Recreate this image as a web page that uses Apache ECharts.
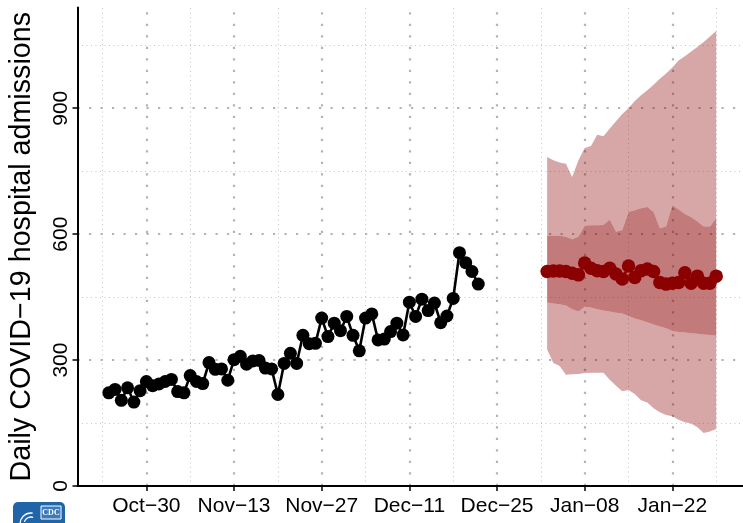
<!DOCTYPE html>
<html>
<head>
<meta charset="utf-8">
<script src="https://cdn.jsdelivr.net/npm/echarts@6/dist/echarts.min.js"></script>
<style>
html,body{margin:0;padding:0;background:#fff;}
#chart{width:743px;height:523px;}
</style>
</head>
<body>
<div id="chart"></div>
<script>
// ---- data ----
const axisStart = [2022, 9, 19];   // first day on the x axis (Oct 19)
const axisDays = 108;              // Oct 19 .. Feb 03
const tickLabels = ['Oct−30', 'Nov−13', 'Nov−27', 'Dec−11', 'Dec−25', 'Jan−08', 'Jan−22'];
const minorXLines = ['Oct−23', 'Nov−06', 'Nov−20', 'Dec−04', 'Dec−18', 'Jan−01', 'Jan−15', 'Jan−29'];
const yTicks = [0, 300, 600, 900];
const yMinorLines = [150, 450, 750, 1050];

const observedStart = 'Oct−24';
const observedValues = [
  222, 230, 204, 234, 200, 227, 249, 239,
  243, 249, 254, 225, 222, 263, 249, 244, 294, 278, 279, 252, 301, 309, 290, 298, 299,
  281, 279, 218, 292, 316, 292, 359, 339, 340, 400, 356, 388, 370,
  404, 359, 322, 400, 410, 348, 350, 368, 388, 360, 438, 404, 445, 418, 436, 389, 405,
  447, 556, 532, 511, 481
];

const forecastStart = 'Jan−02';
const forecastMedian = [
  511, 512, 512, 511, 507, 503, 531, 519, 513, 511, 519, 505, 493, 524,
  497, 513, 517, 511, 485, 481, 483, 485, 508, 483, 500, 483, 483, 500
];
const forecastUpper95 = [
  784, 776, 771, 768, 736, 776, 805, 810, 837, 833, 852, 869, 886, 900,
  917, 931, 943, 956, 970, 983, 997, 1014, 1024, 1035, 1046, 1058, 1071, 1084
];
const forecastUpper50 = [
  596, 596, 596, 594, 588, 594, 620, 621, 621, 622, 635, 606, 610, 653,
  657, 662, 665, 653, 614, 618, 669, 659, 648, 640, 630, 618, 618, 638
];
const forecastLower50 = [
  437, 435, 433, 430, 421, 416, 427, 425, 421, 418, 416, 413, 411, 405,
  399, 395, 390, 385, 380, 376, 369, 367, 366, 364, 363, 361, 360, 358
];
const forecastLower95 = [
  325, 293, 286, 265, 266, 267, 269, 270, 270, 270, 253, 239, 226, 229,
  219, 204, 199, 185, 176, 169, 166, 158, 152, 149, 140, 126, 130, 136
];

// ---- build categories ----
const months = ['Jan','Feb','Mar','Apr','May','Jun','Jul','Aug','Sep','Oct','Nov','Dec'];
const categories = [];
for (let i = 0; i < axisDays; i++) {
  const d = new Date(Date.UTC(axisStart[0], axisStart[1], axisStart[2] + i));
  categories.push(months[d.getUTCMonth()] + '−' + String(d.getUTCDate()).padStart(2, '0'));
}
function place(startName, values) {
  const arr = categories.map(() => null);
  const s = categories.indexOf(startName);
  values.forEach((v, i) => { arr[s + i] = v; });
  return arr;
}
const diff = (a, b) => a.map((v, i) => v - b[i]);

const base = place(forecastStart, forecastLower95);
const band1 = place(forecastStart, diff(forecastLower50, forecastLower95));
const band2 = place(forecastStart, diff(forecastUpper50, forecastLower50));
const band3 = place(forecastStart, diff(forecastUpper95, forecastUpper50));

const FONT = "'Liberation Sans', Arial, Helvetica, sans-serif";
const majorStyle = { color: '#b3b3b3', width: 2.2, type: [2.2, 9.3], cap: 'butt' };
const minorStyle = { color: '#c4c4c4', width: 1, type: [1, 3.5], cap: 'butt' };

const gridLines = [];
tickLabels.forEach(c => gridLines.push({ xAxis: c, lineStyle: majorStyle }));
minorXLines.forEach(c => gridLines.push({ xAxis: c, lineStyle: minorStyle }));
[300, 600, 900].forEach(v => gridLines.push({ yAxis: v, lineStyle: majorStyle }));
yMinorLines.forEach(v => gridLines.push({ yAxis: v, lineStyle: minorStyle }));

const chart = echarts.init(document.getElementById('chart'), null, { renderer: 'canvas' });
chart.setOption({
  animation: false,
  backgroundColor: '#fff',
  grid: { left: 77.5, top: 7.5, width: 670, bottom: 37, containLabel: false, outerBoundsMode: 'none' },
  xAxis: {
    type: 'category',
    data: categories,
    boundaryGap: false,
    axisLine: { show: true, onZero: false, lineStyle: { color: '#000', width: 2 } },
    axisTick: {
      show: true, length: 5, interval: (i, v) => tickLabels.includes(v),
      lineStyle: { color: '#000', width: 1.5 }
    },
    axisLabel: {
      interval: (i, v) => tickLabels.includes(v),
      color: '#000', fontSize: 21, fontFamily: FONT, margin: 10
    },
    splitLine: { show: false }
  },
  yAxis: {
    type: 'value',
    min: 0, max: 1140, interval: 300,
    name: 'Daily COVID−19 hospital admissions',
    nameLocation: 'middle',
    nameGap: 41,
    nameTextStyle: { color: '#000', fontSize: 28.7, fontFamily: FONT },
    axisLine: { show: true, lineStyle: { color: '#000', width: 2 } },
    axisTick: { show: true, length: 5, customValues: yTicks, lineStyle: { color: '#000', width: 1.5 } },
    axisLabel: {
      customValues: yTicks, rotate: 90, color: '#000', fontSize: 21, fontFamily: FONT, margin: 6
    },
    splitLine: { show: false }
  },
  series: [
    {
      type: 'line', data: base, stack: 'band', symbol: 'none', z: 1, silent: true,
      lineStyle: { opacity: 0 },
      markLine: {
        z: 0, silent: true, symbol: 'none', label: { show: false }, animation: false,
        data: gridLines
      }
    },
    {
      type: 'line', data: band1, stack: 'band', symbol: 'none', z: 2, silent: true,
      lineStyle: { opacity: 0 }, areaStyle: { color: 'rgba(139,0,0,0.35)', opacity: 1 }
    },
    {
      type: 'line', data: band2, stack: 'band', symbol: 'none', z: 2, silent: true,
      lineStyle: { opacity: 0 }, areaStyle: { color: 'rgba(139,0,0,0.52)', opacity: 1 }
    },
    {
      type: 'line', data: band3, stack: 'band', symbol: 'none', z: 2, silent: true,
      lineStyle: { opacity: 0 }, areaStyle: { color: 'rgba(139,0,0,0.35)', opacity: 1 }
    },
    {
      type: 'line', data: place(observedStart, observedValues), z: 4,
      symbol: 'circle', symbolSize: 13, showAllSymbol: true,
      itemStyle: { color: '#000' }, lineStyle: { color: '#000', width: 2.6 }
    },
    {
      type: 'line', data: place(forecastStart, forecastMedian), z: 5,
      symbol: 'circle', symbolSize: 13.5, showAllSymbol: true,
      itemStyle: { color: '#8b0000' }, lineStyle: { color: '#8b0000', width: 2.6 }
    }
  ],
  graphic: [
    { type: 'rect', shape: { x: 13, y: 502, width: 52, height: 30, r: 5 }, style: { fill: '#1f65a8' }, silent: true },
    { type: 'rect', shape: { x: 41, y: 506, width: 20, height: 13 }, style: { fill: '#3b7bbd', stroke: '#fff', lineWidth: 1 }, silent: true },
    { type: 'text', x: 51, y: 512.5, style: { text: 'CDC', fill: '#fff', fontSize: 8, fontWeight: 'bold', fontFamily: "'Liberation Serif', serif", align: 'center', verticalAlign: 'middle' }, silent: true },
    { type: 'arc', shape: { cx: 31, cy: 524, r: 11, startAngle: Math.PI, endAngle: Math.PI * 1.55 }, style: { stroke: '#fff', lineWidth: 1.3, fill: null }, silent: true },
    { type: 'arc', shape: { cx: 31, cy: 524, r: 7, startAngle: Math.PI * 1.1, endAngle: Math.PI * 1.6 }, style: { stroke: '#fff', lineWidth: 1.3, fill: null }, silent: true }
  ]
});
</script>
</body>
</html>
